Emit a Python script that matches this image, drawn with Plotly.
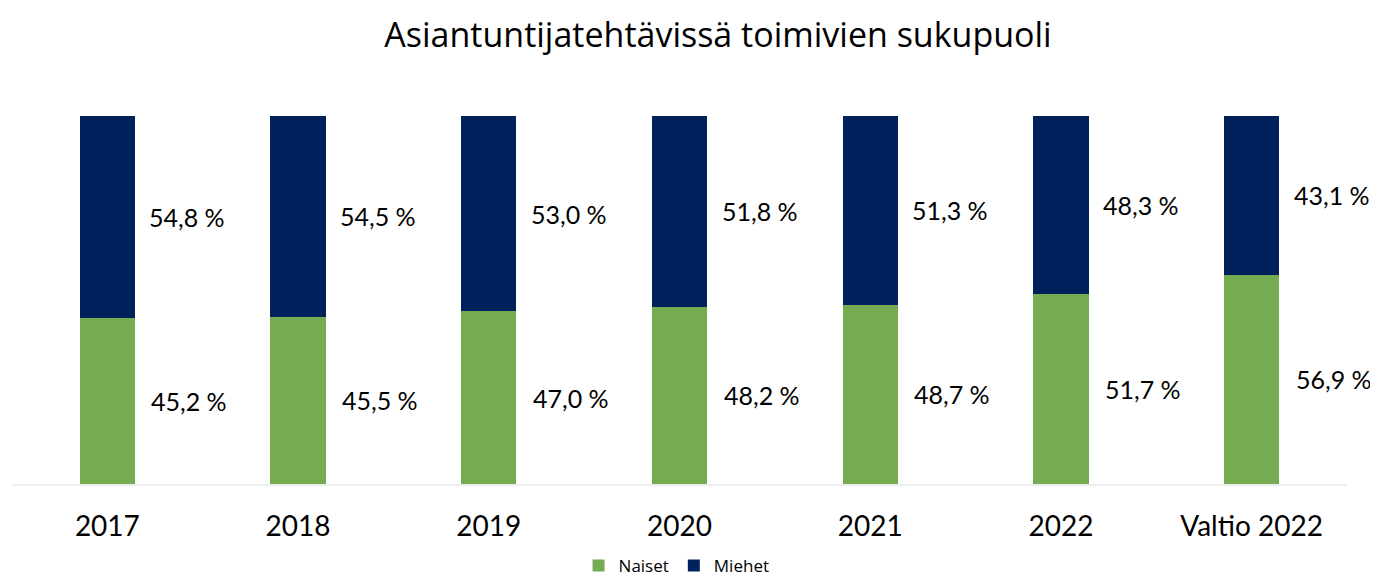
import plotly.graph_objects as go

categories = ["2017", "2018", "2019", "2020", "2021", "2022", "Valtio 2022"]
naiset = [45.2, 45.5, 47.0, 48.2, 48.7, 51.7, 56.9]
miehet = [54.8, 54.5, 53.0, 51.8, 51.3, 48.3, 43.1]
series_names = ["Naiset", "Miehet"]
title_text = "Asiantuntijatehtävissä toimivien sukupuoli"

GREEN = "#75AC52"
BLUE = "#00215B"

# page body has an 8px default margin; size the figure to the visible area
W, H = 1370, 568

fig = go.Figure()
fig.add_trace(go.Bar(x=categories, y=naiset, name=series_names[0],
                     marker=dict(color=GREEN, line=dict(width=0)), hoverinfo="skip"))
fig.add_trace(go.Bar(x=categories, y=miehet, name=series_names[1],
                     marker=dict(color=BLUE, line=dict(width=0)), hoverinfo="skip"))

def fmt(v):
    return f"{v:.1f}".replace(".", ",") + " %"

annotations = []
for i, (n, m) in enumerate(zip(naiset, miehet)):
    annotations.append(dict(x=i, y=n / 2, xref="x", yref="y", text=fmt(n), showarrow=False,
                            xshift=82, font=dict(family="Lato", size=25, color="black")))
    annotations.append(dict(x=i, y=n + m / 2, xref="x", yref="y", text=fmt(m), showarrow=False,
                            xshift=80, font=dict(family="Lato", size=25, color="black")))

fig.update_layout(
    barmode="stack",
    bargap=0.71,
    width=W, height=H,
    margin=dict(l=4, r=31, t=108, b=92, autoexpand=False),
    paper_bgcolor="white", plot_bgcolor="white",
    title=dict(text=title_text, x=(718 - 8) / W, xanchor="center", y=1 - 27 / H, yanchor="middle",
               yref="container", font=dict(family="Open Sans", size=34, color="black")),
    showlegend=True,
    legend=dict(orientation="h", x=(690 - 8) / W, xanchor="center", y=-0.223, yanchor="middle",
                font=dict(family="Open Sans", size=17, color="black"),
                traceorder="normal"),
    annotations=annotations,
)
fig.update_xaxes(type="category", categoryorder="array", categoryarray=categories,
                 range=[-0.5, len(categories) - 0.5],
                 showline=True, linecolor="#EDEDED", linewidth=2,
                 ticks="outside", ticklen=16, tickcolor="rgba(0,0,0,0)",
                 showgrid=False, tickfont=dict(family="Lato", size=28, color="black"))
fig.update_yaxes(range=[0, 100], visible=False, showgrid=False)

fig.write_html("out.html")
